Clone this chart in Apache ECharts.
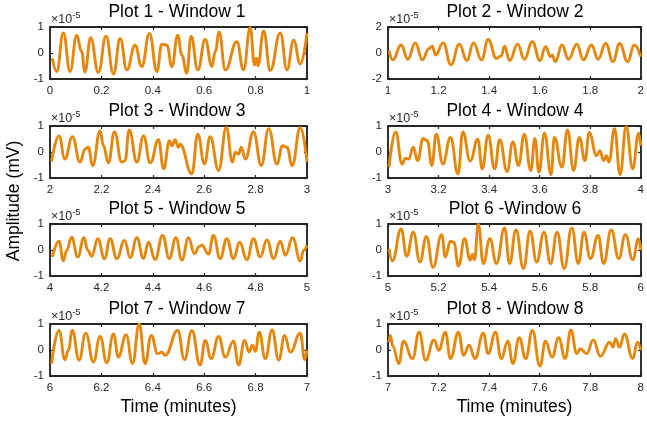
<!DOCTYPE html>
<html>
<head>
<meta charset="utf-8">
<script src="https://cdn.jsdelivr.net/npm/echarts@6/dist/echarts.min.js"></script>
<style>
html,body{margin:0;padding:0;background:#fff;}
#chart{width:647px;height:422px;}
</style>
</head>
<body>
<div id="chart"></div>
<script>
// Amplitude values are in units of 1e-5 mV (axis shows the x10^-5 multiplier)
const window1 = [[0.009,-0.20],[0.026,-0.71],[0.052,0.77],[0.078,-0.71],[0.104,0.68],[0.123,0.05],[0.136,-0.73],[0.158,0.59],[0.188,-0.75],[0.218,0.65],[0.247,-0.81],[0.273,0.56],[0.299,-0.65],[0.331,0.30],[0.357,-0.52],[0.387,0.75],[0.416,-0.71],[0.435,0.34],[0.455,0.30],[0.474,-0.52],[0.497,0.68],[0.513,-0.08],[0.532,-0.77],[0.549,0.65],[0.575,-0.65],[0.604,0.52],[0.630,-0.52],[0.643,0.05],[0.658,0.81],[0.682,-0.65],[0.727,0.43],[0.753,-0.65],[0.779,0.97],[0.796,-0.46],[0.803,-0.20],[0.809,-0.49],[0.831,0.85],[0.857,-0.67],[0.896,0.77],[0.922,-0.65],[0.948,0.49],[0.974,-0.42],[1.0,0.77]];
const window2 = [[1.004,0.18],[1.019,-0.53],[1.052,0.61],[1.078,-0.48],[1.108,0.78],[1.136,-0.53],[1.162,0.35],[1.175,0.53],[1.188,-0.15],[1.218,0.78],[1.249,-0.91],[1.282,0.68],[1.312,-0.58],[1.338,0.78],[1.370,-0.53],[1.396,1.04],[1.429,-0.41],[1.448,-0.23],[1.461,0.53],[1.481,-0.58],[1.513,0.68],[1.539,-0.48],[1.571,0.86],[1.601,-0.58],[1.623,0.48],[1.643,-0.28],[1.649,-0.15],[1.662,-0.66],[1.688,0.61],[1.714,-0.48],[1.747,0.68],[1.773,-0.53],[1.805,0.61],[1.831,-0.48],[1.861,0.73],[1.890,-0.66],[1.916,0.73],[1.948,-0.66],[1.974,0.61],[2.0,-0.28]];
const window3 = [[2.006,-0.37],[2.035,0.62],[2.058,-0.27],[2.087,0.59],[2.117,-0.39],[2.136,0.11],[2.149,0.18],[2.166,-0.52],[2.195,0.81],[2.208,0.24],[2.227,-0.42],[2.251,0.77],[2.279,-0.39],[2.292,-0.33],[2.308,0.85],[2.338,-0.39],[2.364,0.62],[2.390,-0.42],[2.422,0.47],[2.442,-0.65],[2.465,0.43],[2.474,0.24],[2.487,0.47],[2.500,0.18],[2.506,0.30],[2.552,-0.84],[2.575,0.68],[2.601,-0.46],[2.623,0.59],[2.656,-0.71],[2.686,0.94],[2.710,-0.39],[2.721,-0.01],[2.734,-0.08],[2.744,0.18],[2.760,-0.27],[2.792,0.77],[2.822,-0.52],[2.851,0.90],[2.883,-0.46],[2.905,0.24],[2.922,0.18],[2.942,-0.52],[2.974,0.94],[3.0,-0.37]];
const window4 = [[3.004,-0.58],[3.030,0.77],[3.056,-0.46],[3.069,-0.24],[3.082,-0.27],[3.100,0.18],[3.117,-0.33],[3.139,0.52],[3.156,0.43],[3.173,-0.52],[3.191,0.68],[3.217,-0.46],[3.247,0.56],[3.277,-0.84],[3.296,0.77],[3.325,-0.35],[3.355,0.49],[3.373,-0.65],[3.396,0.65],[3.422,-0.65],[3.442,0.47],[3.471,-0.75],[3.494,0.39],[3.516,-0.52],[3.539,0.68],[3.565,-0.71],[3.581,0.52],[3.597,-0.77],[3.619,0.72],[3.645,-0.87],[3.658,0.56],[3.688,-0.58],[3.710,0.85],[3.734,-0.71],[3.757,0.56],[3.779,-0.33],[3.796,0.75],[3.825,-0.14],[3.838,0.05],[3.853,-0.33],[3.864,-0.14],[3.874,-0.39],[3.896,0.90],[3.918,-0.87],[3.942,0.97],[3.968,-0.65],[3.991,0.72],[4.0,0.24]];
const window5 = [[4.009,-0.27],[4.035,0.34],[4.052,-0.42],[4.065,-0.01],[4.084,0.49],[4.108,-0.27],[4.132,0.47],[4.147,-0.01],[4.162,-0.24],[4.186,0.43],[4.212,-0.33],[4.234,0.43],[4.260,-0.33],[4.290,0.37],[4.312,-0.29],[4.338,0.47],[4.364,-0.33],[4.383,0.30],[4.409,-0.37],[4.438,0.56],[4.464,-0.33],[4.490,0.47],[4.513,-0.39],[4.539,0.47],[4.562,-0.14],[4.581,0.14],[4.591,0.18],[4.617,-0.16],[4.636,0.56],[4.662,-0.33],[4.688,0.43],[4.714,-0.33],[4.738,0.30],[4.766,-0.37],[4.792,0.43],[4.818,-0.27],[4.844,0.39],[4.870,-0.33],[4.896,0.34],[4.916,-0.20],[4.944,0.47],[4.974,-0.42],[4.987,-0.01],[5.0,0.18]];
const window6 = [[5.004,0.05],[5.017,-0.42],[5.052,0.81],[5.074,-0.24],[5.100,0.68],[5.126,-0.46],[5.152,0.52],[5.178,-0.67],[5.212,0.59],[5.227,-0.27],[5.247,0.34],[5.260,0.30],[5.279,-0.62],[5.303,0.43],[5.325,-0.39],[5.334,-0.16],[5.342,-0.37],[5.357,1.0],[5.377,-0.52],[5.403,0.43],[5.429,-0.52],[5.461,0.85],[5.481,-0.52],[5.506,0.77],[5.536,-0.71],[5.562,0.72],[5.588,-0.46],[5.617,0.68],[5.643,-0.52],[5.669,0.68],[5.697,-0.71],[5.727,0.85],[5.753,-0.52],[5.775,0.68],[5.801,-0.33],[5.831,0.56],[5.853,-0.52],[5.883,0.77],[5.913,-0.33],[5.939,0.59],[5.968,-0.37],[5.991,0.43],[6.0,-0.01]];
const window7 = [[6.006,-0.52],[6.035,0.75],[6.058,-0.37],[6.071,-0.01],[6.087,0.75],[6.113,-0.39],[6.139,0.65],[6.169,-0.46],[6.195,0.52],[6.221,-0.49],[6.247,0.62],[6.266,-0.27],[6.296,0.59],[6.321,-0.52],[6.347,1.0],[6.370,-0.52],[6.394,0.56],[6.419,-0.14],[6.435,-0.08],[6.448,-0.20],[6.497,0.75],[6.523,-0.37],[6.552,0.75],[6.584,-0.58],[6.604,0.37],[6.627,-0.33],[6.656,0.52],[6.682,-0.27],[6.714,0.34],[6.734,-0.58],[6.757,0.37],[6.775,-0.08],[6.788,0.18],[6.799,-0.05],[6.814,0.68],[6.838,-0.33],[6.864,0.77],[6.890,-0.39],[6.913,0.56],[6.935,-0.08],[6.974,0.65],[6.991,-0.37],[7.0,-0.01]];
const window8 = [[7.004,0.30],[7.009,0.56],[7.019,0.14],[7.043,-0.52],[7.061,0.34],[7.097,-0.33],[7.123,0.68],[7.149,-0.39],[7.182,0.39],[7.201,-0.01],[7.227,0.68],[7.247,-0.33],[7.279,0.68],[7.299,-0.20],[7.321,0.18],[7.344,-0.33],[7.377,0.65],[7.396,-0.14],[7.425,0.68],[7.448,-0.33],[7.474,0.34],[7.494,-0.52],[7.519,0.47],[7.545,-0.33],[7.571,0.75],[7.601,-0.62],[7.623,0.34],[7.649,-0.27],[7.675,0.47],[7.701,-0.33],[7.723,0.77],[7.747,-0.14],[7.760,0.05],[7.786,-0.14],[7.812,0.39],[7.840,-0.24],[7.877,0.30],[7.890,0.11],[7.900,0.43],[7.916,0.11],[7.935,0.62],[7.968,-0.33],[7.987,0.30],[8.0,-0.01]];

const windows = [window1, window2, window3, window4, window5, window6, window7, window8];
const plotTitles = ['Plot 1 - Window 1','Plot 2 - Window 2','Plot 3 - Window 3','Plot 4 - Window 4','Plot 5 - Window 5','Plot 6 -Window 6','Plot 7 - Window 7','Plot 8 - Window 8'];
const xStarts = [0,1,2,3,4,5,6,7];
const yLimits = [1,2,1,1,1,1,1,1];
const xLabel = 'Time (minutes)';
const yLabel = 'Amplitude (mV)';
const exponentLabel = ['×10', '-5'];

const FONT = '"Liberation Sans", Arial, Helvetica, sans-serif';
const AX = '#262626';
const LINE = '#e5870c';
const colLeft = [50, 388];
const gridW = 257;
const rowTop = [27, 126, 224, 324];
const gridH = 52;
const titleCenters = [177, 515];

const grid = [], xAxis = [], yAxis = [], series = [], title = [];
windows.forEach((data, i) => {
  const col = i % 2, row = Math.floor(i / 2);
  grid.push({left: colLeft[col], top: rowTop[row], width: gridW, height: gridH});
  const lineStyle = {color: AX, width: 1.9};
  const tick = {show: true, inside: true, length: 3, lineStyle: {color: AX, width: 1.2}};
  xAxis.push({
    gridIndex: i, type: 'value', position: 'bottom',
    min: xStarts[i], max: xStarts[i] + 1, interval: 0.2,
    axisLine: {show: true, onZero: false, lineStyle},
    axisTick: tick,
    axisLabel: {color: AX, fontSize: 11.5, fontFamily: FONT, margin: 6},
    splitLine: {show: false},
    name: row === 3 ? xLabel : '',
    nameLocation: 'middle', nameGap: 22,
    nameTextStyle: {color: '#000', fontSize: 17.5, fontFamily: FONT}
  });
  xAxis.push({
    gridIndex: i, type: 'value', position: 'top',
    min: xStarts[i], max: xStarts[i] + 1, interval: 0.2,
    axisLine: {show: true, onZero: false, lineStyle},
    axisTick: tick, axisLabel: {show: false}, splitLine: {show: false}
  });
  yAxis.push({
    gridIndex: i, type: 'value', position: 'left',
    min: -yLimits[i], max: yLimits[i], interval: yLimits[i],
    axisLine: {show: true, onZero: false, lineStyle},
    axisTick: tick,
    axisLabel: {color: AX, fontSize: 11.5, fontFamily: FONT, margin: 6},
    splitLine: {show: false},
    name: '{a|' + exponentLabel[0] + '}{b|' + exponentLabel[1] + '}',
    nameLocation: 'end', nameGap: 1,
    nameTextStyle: {
      align: 'left', verticalAlign: 'bottom', padding: [0, 0, 0, 1],
      rich: {
        a: {fontSize: 12.5, lineHeight: 16, color: AX, fontFamily: FONT, verticalAlign: 'bottom'},
        b: {fontSize: 9.5, lineHeight: 10, color: AX, fontFamily: FONT, verticalAlign: 'top'}
      }
    }
  });
  yAxis.push({
    gridIndex: i, type: 'value', position: 'right',
    min: -yLimits[i], max: yLimits[i], interval: yLimits[i],
    axisLine: {show: true, onZero: false, lineStyle},
    axisTick: tick, axisLabel: {show: false}, splitLine: {show: false}
  });
  series.push({
    type: 'line', xAxisIndex: 2 * i, yAxisIndex: 2 * i,
    data: data, showSymbol: false, symbol: 'none',
    smooth: 0.45, smoothMonotone: 'x',
    lineStyle: {color: LINE, width: 2.9},
    silent: true, animation: false, z: 1
  });
  title.push({
    text: plotTitles[i], left: titleCenters[col], top: rowTop[row] - 15,
    textAlign: 'center', textVerticalAlign: 'middle', padding: 0,
    textStyle: {fontSize: 17.5, fontWeight: 'normal', color: '#000', fontFamily: FONT}
  });
});

const chart = echarts.init(document.getElementById('chart'), null, {renderer: 'canvas'});
chart.setOption({
  animation: false,
  backgroundColor: '#fff',
  title, grid, xAxis, yAxis, series,
  graphic: [{
    type: 'text', x: 14, y: 201, rotation: Math.PI / 2,
    style: {text: yLabel, fill: '#000', font: '17.5px ' + FONT, textAlign: 'center', textVerticalAlign: 'middle'}
  }]
});
</script>
</body>
</html>
